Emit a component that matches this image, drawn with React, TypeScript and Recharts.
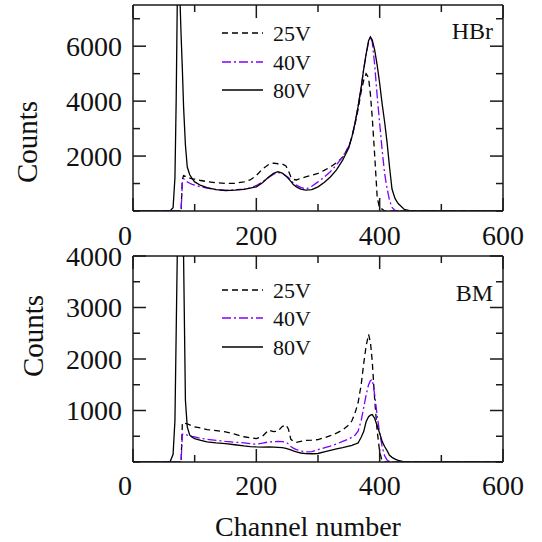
import React from 'react';
import { LineChart, Line, XAxis, YAxis, ReferenceLine, Legend } from 'recharts';

// channel axis shared by both spectra
const channels = [
  0, 20, 40, 60, 65, 68, 70, 72, 74, 76,
  78, 80, 82, 85, 88, 92, 96, 100, 110, 120,
  135, 150, 165, 180, 190, 200, 210, 220, 228, 235,
  242, 248, 252, 256, 260, 265, 272, 280, 290, 300,
  310, 320, 330, 340, 350, 355, 360, 365, 370, 374,
  378, 382, 385, 388, 392, 396, 400, 404, 408, 412,
  416, 420, 425, 430, 440, 450, 480, 520, 560, 600,
];

// HBr panel
const hbr25 = [
  0, 0, 0, 0, 0, 0, 0, 0, 0, 0,
  0, 1150, 1290, 1260, 1230, 1200, 1170, 1160, 1110, 1070,
  1030, 1000, 1010, 1060, 1130, 1290, 1530, 1690, 1740, 1720,
  1710, 1640, 1470, 1240, 1150, 1130, 1190, 1240, 1300, 1370,
  1480, 1600, 1760, 1950, 2350, 2700, 3150, 3700, 4350, 4750,
  5000, 4850, 4250, 3400, 2000, 500, 80, 70, 0, 0,
  0, 0, 0, 0, 0, 0, 0, 0, 0, 0,
];
const hbr40 = [
  0, 0, 0, 0, 0, 0, 0, 0, 0, 0,
  0, 1050, 1180, 1120, 1060, 1010, 970, 940, 880, 830,
  780, 760, 770, 800, 840, 930, 1060, 1220, 1340, 1400,
  1370, 1280, 1220, 1120, 1020, 940, 860, 800, 900, 1060,
  1230, 1430, 1680, 1980, 2350, 2700, 3200, 3800, 4500, 5150,
  5700, 6150, 6350, 6150, 5300, 4170, 3200, 2220, 1370, 820,
  390, 130, 20, 0, 0, 0, 0, 0, 0, 0,
];
const hbr80 = [
  0, 0, 0, 0, 120, 1200, 4000, 8000, 22000, 7800,
  6400, 5200, 3800, 2400, 1600, 1320, 1180, 1060, 930, 850,
  780, 740, 760, 790, 830, 880, 1030, 1240, 1370, 1430,
  1380, 1270, 1180, 1080, 960, 880, 800, 760, 780, 880,
  1040, 1240, 1500, 1850, 2300, 2700, 3200, 3800, 4500, 5150,
  5700, 6200, 6340, 6230, 5850, 5300, 4650, 3900, 3250, 2500,
  1600, 800, 450, 270, 60, 0, 0, 0, 0, 0,
];

// BM panel
const bm25 = [
  0, 0, 0, 0, 0, 0, 0, 0, 0, 0,
  0, 740, 770, 750, 740, 720, 700, 680, 660, 630,
  610, 585, 540, 490, 470, 455, 500, 620, 590, 600,
  690, 720, 640, 440, 400, 380, 400, 420, 425, 435,
  470, 510, 560, 620, 720, 800, 950, 1150, 1500, 1900,
  2250, 2480, 2330, 1950, 1200, 600, 200, 20, 0, 0,
  0, 0, 0, 0, 0, 0, 0, 0, 0, 0,
];
const bm40 = [
  0, 0, 0, 0, 0, 0, 0, 0, 0, 0,
  0, 540, 550, 540, 520, 505, 495, 487, 460, 440,
  420, 400, 385, 370, 355, 345, 365, 390, 395, 400,
  395, 385, 350, 300, 270, 240, 215, 195, 200, 240,
  275, 310, 350, 400, 450, 480, 520, 600, 800, 1050,
  1300, 1500, 1580, 1600, 1300, 900, 560, 300, 120, 40,
  10, 0, 0, 0, 0, 0, 0, 0, 0, 0,
];
const bm80 = [
  0, 0, 0, 0, 150, 800, 2500, 4200, 10000, 12000,
  10000, 7000, 4000, 1200, 680, 520, 480, 455, 420, 390,
  370, 357, 335, 312, 300, 292, 290, 292, 288, 285,
  280, 265, 250, 235, 215, 195, 175, 162, 160, 165,
  195, 227, 255, 280, 310, 325, 345, 370, 480, 585,
  780, 880, 910, 920, 845, 700, 560, 400, 300, 220,
  130, 90, 55, 32, 0, 0, 0, 0, 0, 0,
];

const xTicks = [0, 100, 200, 300, 400, 500, 600];
const xLabeled = [0, 200, 400, 600];
const hbrTicks = [0, 1000, 2000, 3000, 4000, 5000, 6000, 7000];
const hbrLabeled = [2000, 4000, 6000];
const bmTicks = [0, 500, 1000, 1500, 2000, 2500, 3000, 3500, 4000];
const bmLabeled = [1000, 2000, 3000, 4000];

const seriesStyle = [
  { key: 'v25', name: '25V', color: '#000000', dash: '6 4' },
  { key: 'v40', name: '40V', color: '#8000ff', dash: '9 3 2 3' },
  { key: 'v80', name: '80V', color: '#000000', dash: undefined },
];

const FONT = '"Liberation Serif", "Times New Roman", serif';
const INK = '#1a1a1a';
const PLOT_W = 370;
const PLOT_H = 206;
const TICK_FONT = 28;

const makeRows = (a: number[], b: number[], c: number[]) =>
  channels.map((ch, i) => ({ ch, v25: a[i], v40: b[i], v80: c[i] }));

type PanelProps = {
  rows: any[];
  yMax: number;
  yTicks: number[];
  yLabeled: number[];
  title: string;
  legendRows: number[];
  titleY: number;
  height: number;
  marginTop: number;
  xLabelGap: number;
  countsX: number;
  countsY: number;
  showXTitle: boolean;
};

const Panel = (p: PanelProps) => {
  const yTick = (props: any) => {
    const { x, y, payload } = props;
    const major = p.yLabeled.includes(payload.value);
    const len = major ? 13 : 7;
    return (
      <g>
        <line x1={x} x2={x + len} y1={y} y2={y} stroke={INK} strokeWidth={1.5} />
        <line x1={x + PLOT_W} x2={x + PLOT_W - len} y1={y} y2={y} stroke={INK} strokeWidth={1.5} />
        {major && (
          <text x={x - 11} y={y} textAnchor="end" dominantBaseline="central"
            fontFamily={FONT} fontSize={TICK_FONT} fill="#111">{payload.value}</text>
        )}
      </g>
    );
  };

  const xTick = (props: any) => {
    const { x, y, payload } = props;
    const major = xLabeled.includes(payload.value);
    const len = major ? 13 : 7;
    return (
      <g>
        <line x1={x} x2={x} y1={y} y2={y - len} stroke={INK} strokeWidth={1.5} />
        <line x1={x} x2={x} y1={y - PLOT_H} y2={y - PLOT_H + len} stroke={INK} strokeWidth={1.5} />
        {major && (
          <text x={payload.value === 0 ? x - 1 : x} y={y + p.xLabelGap}
            textAnchor={payload.value === 0 ? 'end' : 'middle'} dominantBaseline="central"
            fontFamily={FONT} fontSize={TICK_FONT} fill="#111">{payload.value}</text>
        )}
      </g>
    );
  };

  const countsLabel = () => (
    <text x={p.countsX} y={p.countsY} transform={`rotate(-90, ${p.countsX}, ${p.countsY})`}
      textAnchor="middle" dominantBaseline="central" fontFamily={FONT} fontSize={29} fill="#111">
      Counts
    </text>
  );

  const channelLabel = () =>
    p.showXTitle ? (
      <text x={308} y={p.height - 6} textAnchor="middle" fontFamily={FONT} fontSize={28} fill="#111">
        Channel number
      </text>
    ) : null;

  const legendBox = () => (
    <svg width={PLOT_W} height={PLOT_H} style={{ display: 'block', overflow: 'visible' }}>
      {seriesStyle.map((s, i) => (
        <g key={s.key}>
          <line x1={89} x2={130} y1={p.legendRows[i]} y2={p.legendRows[i]}
            stroke={s.color} strokeWidth={1.4} strokeDasharray={s.dash} />
          <text x={140} y={p.legendRows[i]} dominantBaseline="central"
            fontFamily={FONT} fontSize={22} fill="#111">{s.name}</text>
        </g>
      ))}
      <text x={360} y={p.titleY} textAnchor="end" dominantBaseline="central"
        fontFamily={FONT} fontSize={24} fill="#111">{p.title}</text>
    </svg>
  );

  return (
    <LineChart width={542} height={p.height} data={p.rows}
      margin={{ top: p.marginTop, right: 39, bottom: 0, left: 0 }}>
      <XAxis dataKey="ch" type="number" domain={[0, 600]} ticks={xTicks} interval={0}
        height={p.height - p.marginTop - PLOT_H} tickSize={0} tickMargin={0} tickLine={false}
        tick={xTick} axisLine={{ stroke: INK, strokeWidth: 1.5 }} label={channelLabel} />
      <YAxis type="number" domain={[0, p.yMax]} allowDataOverflow ticks={p.yTicks} interval={0}
        width={133} tickSize={0} tickMargin={0} tickLine={false} tick={yTick}
        axisLine={{ stroke: INK, strokeWidth: 1.5 }} label={countsLabel} />
      <ReferenceLine y={p.yMax} stroke={INK} strokeWidth={1.5} />
      <ReferenceLine x={600} stroke={INK} strokeWidth={1.5} />
      <Legend layout="vertical" align="center" verticalAlign="middle" content={legendBox}
        wrapperStyle={{ left: 133, top: p.marginTop, width: PLOT_W, height: PLOT_H, pointerEvents: 'none' }} />
      {seriesStyle.map((s) => (
        <Line key={s.key} type="linear" dataKey={s.key} name={s.name} stroke={s.color}
          strokeWidth={1.3} strokeDasharray={s.dash} dot={false} activeDot={false}
          isAnimationActive={false} />
      ))}
    </LineChart>
  );
};

export default function App() {
  return (
    <div style={{ position: 'absolute', left: 0, top: 0, width: 542, height: 542, background: '#fff' }}>
      <div style={{ position: 'absolute', left: 0, top: 0 }}>
        <Panel rows={makeRows(hbr25, hbr40, hbr80)} yMax={7500} yTicks={hbrTicks} yLabeled={hbrLabeled}
          title="HBr" legendRows={[28, 57, 85]} titleY={26} height={250} marginTop={5}
          xLabelGap={24} countsX={27} countsY={142} showXTitle={false} />
      </div>
      <div style={{ position: 'absolute', left: 0, top: 225 }}>
        <Panel rows={makeRows(bm25, bm40, bm80)} yMax={4000} yTicks={bmTicks} yLabeled={bmLabeled}
          title="BM" legendRows={[34, 62, 91]} titleY={37} height={317} marginTop={31}
          xLabelGap={23} countsX={33} countsY={111} showXTitle={true} />
      </div>
    </div>
  );
}
